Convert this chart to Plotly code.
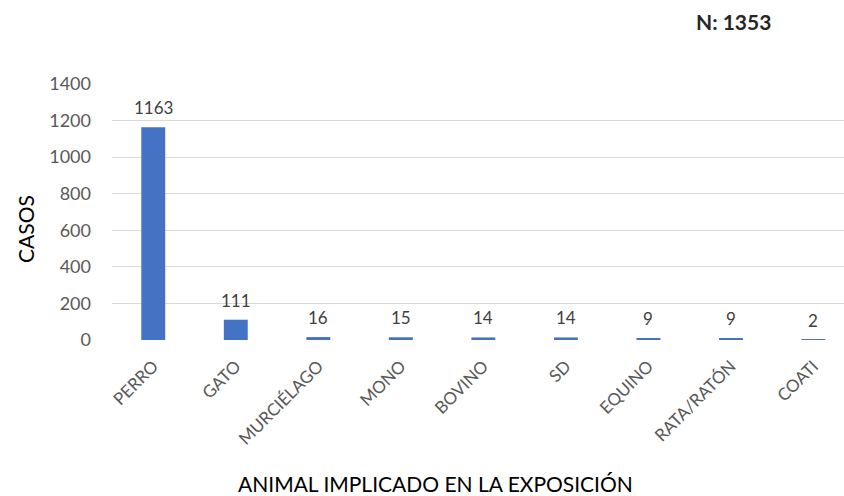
import plotly.graph_objects as go

# Animals involved in the exposure and number of cases
animales = ["PERRO", "GATO", "MURCIÉLAGO", "MONO", "BOVINO", "SD", "EQUINO", "RATA/RATÓN", "COATI"]
casos = [1163, 111, 16, 15, 14, 14, 9, 9, 2]
total_n = 1353
y_ticks = [0, 200, 400, 600, 800, 1000, 1200, 1400]

FONT = "Lato"
W, H = 844, 496
ML, MR, MT, MB = 112, 0, 84, 156

fig = go.Figure(
    go.Bar(
        x=animales,
        y=casos,
        marker=dict(color="#4472C4", line=dict(width=0)),
        hoverinfo="x+y",
    )
)

# value labels above each bar
for animal, valor in zip(animales, casos):
    fig.add_annotation(
        x=animal, y=valor, xref="x", yref="y",
        text=str(valor), showarrow=False,
        yanchor="bottom", xanchor="center", yshift=7,
        font=dict(family=FONT, size=17, color="#404040"),
    )

fig.update_layout(
    width=W,
    height=H,
    margin=dict(l=ML, r=MR, t=MT, b=MB),
    paper_bgcolor="white",
    plot_bgcolor="white",
    bargap=0.71,
    showlegend=False,
    font=dict(family=FONT),
)

fig.update_xaxes(
    type="category",
    range=[-0.5, 8.37],
    tickangle=-45,
    tickfont=dict(family=FONT, size=17, color="#595959"),
    showgrid=False,
    showline=False,
    ticks="",
    zeroline=False,
    ticklabelstandoff=12,
)

fig.update_yaxes(
    range=[0, 1400],
    tickvals=y_ticks,
    ticktext=[str(v) for v in y_ticks],
    tickfont=dict(family=FONT, size=18, color="#595959"),
    showgrid=True,
    gridcolor="#D9D9D9",
    gridwidth=1,
    zeroline=False,
    showline=False,
    ticks="",
    ticklabelstandoff=20,
)

# texts placed by pixel position, converted to plot-area paper fractions
pw = W - ML - MR
ph = H - MT - MB


def add_px_text(text, px, py, size, color, angle=0):
    fig.add_annotation(
        text=text, textangle=angle,
        x=(px - ML) / pw, y=((H - py) - MB) / ph,
        xref="paper", yref="paper", xanchor="center", yanchor="middle",
        showarrow=False, font=dict(family=FONT, size=size, color=color),
    )


add_px_text("CASOS", 25, 229, 21, "#000000", angle=-90)
add_px_text("ANIMAL IMPLICADO EN LA EXPOSICIÓN", 435, 483, 21, "#000000")
add_px_text(f"<b>N: {total_n}</b>", 733, 21, 21, "#262626")

fig.write_html("out.html")
